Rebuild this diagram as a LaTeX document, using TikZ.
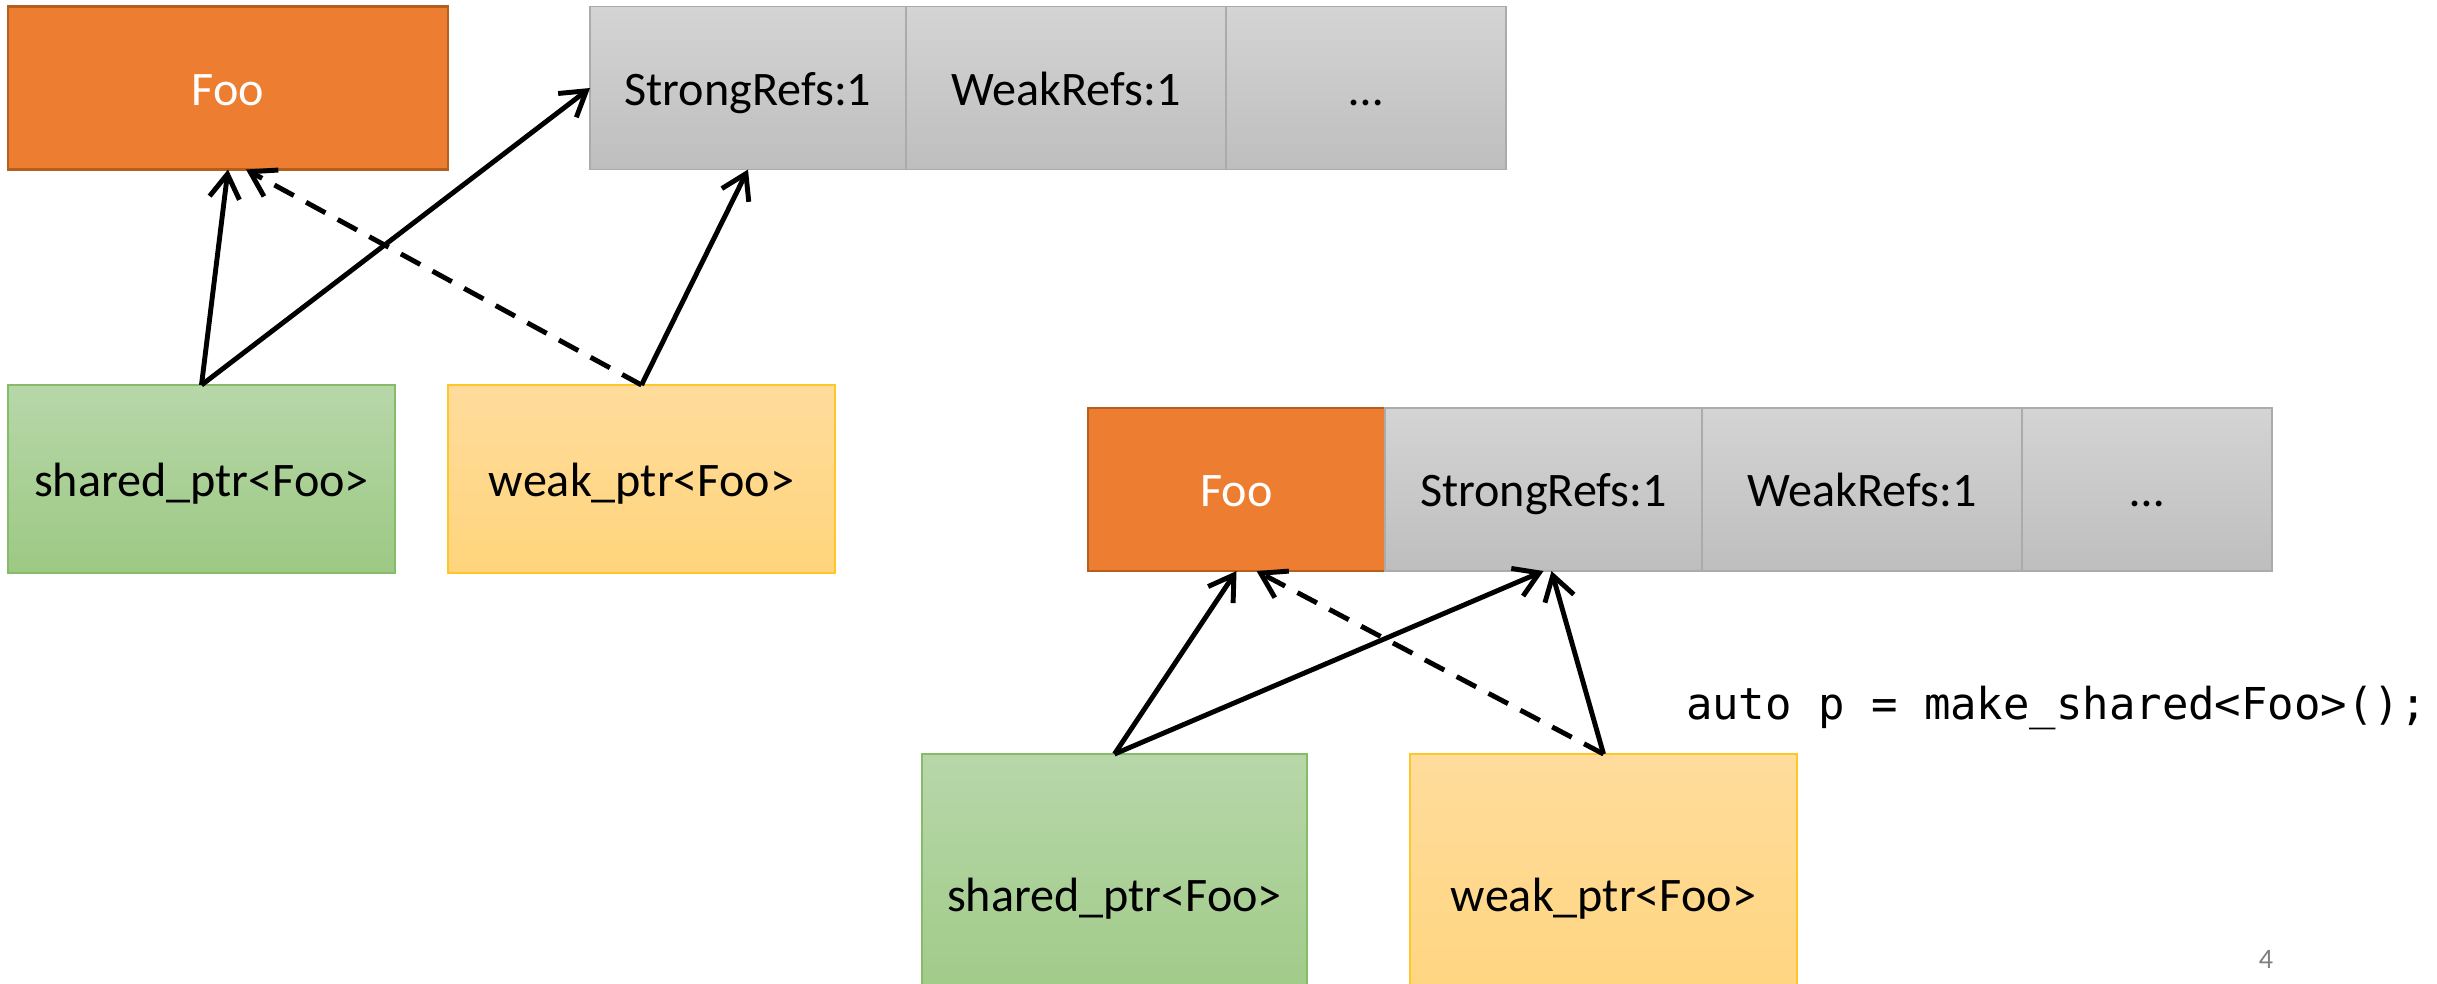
\documentclass[tikz,border=0pt]{standalone}
\usepackage{fontspec}
\setmainfont{Carlito}
\newfontfamily\codefont{DejaVu Sans Mono}
\usetikzlibrary{arrows.meta}
\definecolor{fooorange}{HTML}{ED7D31}
\definecolor{fooedge}{HTML}{B3601F}
\definecolor{celltop}{HTML}{D4D4D4}
\definecolor{cellbot}{HTML}{BEBEBE}
\definecolor{celledge}{HTML}{ABABAB}
\definecolor{greentop}{HTML}{B7D7A9}
\definecolor{greenbot}{HTML}{9DC983}
\definecolor{greenedge}{HTML}{86BB69}
\definecolor{yellowtop}{HTML}{FFDC9C}
\definecolor{yellowbot}{HTML}{FFD47B}
\definecolor{yellowedge}{HTML}{FFC62A}

\begin{document}
\begin{tikzpicture}[every node/.style={rectangle, inner sep=0pt, outer sep=0pt, font=\fontsize{13.7}{16}\selectfont},
		box/.style={text height=0.34cm, text depth=0cm},
		foobox/.style={box, fill=fooorange, draw=fooedge, line width=0.8pt, text=white, minimum height=1.63cm},
		cell/.style={box, top color=celltop, bottom color=cellbot, draw=celledge, line width=0.4pt, minimum height=1.63cm},
		sharedbox/.style={box, top color=greentop, bottom color=greenbot, draw=greenedge, line width=0.4pt},
		weakbox/.style={box, top color=yellowtop, bottom color=yellowbot, draw=yellowedge, line width=0.4pt},
		ref/.style={line width=1.4pt, -{Straight Barb[length=0.24cm, width=0.3cm]}},
		weakref/.style={ref, dash pattern=on 0.22cm off 0.14cm}]
		% \draw[help lines] (0,0) grid (24,-10);
		\useasboundingbox (0,0) rectangle (24.37,-9.83);
		\clip (0,0) rectangle (24.37,-9.83);

		\node[foobox, minimum width=4.40cm] (foo1) at (2.28,-0.88) {Foo};
		\node[cell, minimum width=3.16cm] (strong1) at (7.48,-0.88) {StrongRefs:1};
		\node[cell, minimum width=3.20cm] (weak1) at (10.66,-0.88) {WeakRefs:1};
		\node[cell, minimum width=2.80cm] (dots1) at (13.66,-0.88) {…};

		\node[sharedbox, minimum width=3.87cm, minimum height=1.88cm] (sp1) at (2.015,-4.79) {shared\_ptr<Foo>};
		\node[weakbox, minimum width=3.87cm, minimum height=1.88cm] (wp1) at (6.415,-4.79) {weak\_ptr<Foo>};

		\draw[ref] (sp1.north) -- (foo1.south);
		\draw[ref] (sp1.north) -- (strong1.west);
		\draw[weakref] (wp1.north) -- ([xshift=0.18cm]foo1.south);
		\draw[ref] (wp1.north) -- (strong1.south);

		\node[foobox, minimum width=2.97cm] (foo2) at (12.365,-4.895) {Foo};
		\node[cell, minimum width=3.17cm] (strong2) at (15.435,-4.895) {StrongRefs:1};
		\node[cell, minimum width=3.20cm] (weak2) at (18.62,-4.895) {WeakRefs:1};
		\node[cell, minimum width=2.50cm] (dots2) at (21.47,-4.895) {…};

		\node[sharedbox, minimum width=3.85cm, minimum height=2.80cm] (sp2) at (11.145,-8.94) {shared\_ptr<Foo>};
		\node[weakbox, minimum width=3.87cm, minimum height=2.80cm] (wp2) at (16.035,-8.94) {weak\_ptr<Foo>};

		\draw[ref] (sp2.north) -- (foo2.south);
		\draw[ref] (sp2.north) -- (strong2.south);
		\draw[weakref] (wp2.north) -- ([xshift=0.2cm]foo2.south);
		\draw[ref] (wp2.north) -- ([xshift=0.08cm]strong2.south);

		\node[anchor=west, font=\codefont\fontsize{12.5}{14}\selectfont] (code) at (16.86,-7.08) {auto p = make\_shared<Foo>();};
		\node[text=gray, font=\fontsize{8}{9}\selectfont] (pagenum) at (22.66,-9.59) {4};
	\end{tikzpicture}
\end{document}
